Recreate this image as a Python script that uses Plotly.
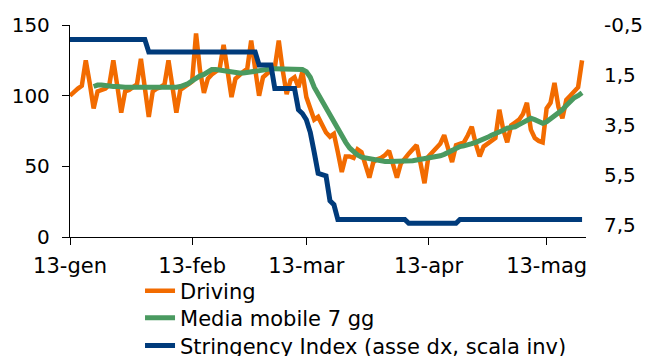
import pandas as pd
import plotly.graph_objects as go

start_date = "2020-01-13"
end_date = "2020-05-23"

# Apple mobility "Driving" index (daily, from 13 Jan 2020)
driving = [
    100, 103, 105, 107, 125, 109, 91,
    103, 104, 105, 108, 125, 107, 88,
    103, 104, 106, 108, 126, 107, 85,
    103, 105, 106, 108, 125, 108, 88,
    104, 106, 108, 110, 144, 118, 102,
    112, 115, 117, 119, 136, 118, 99,
    112, 115, 117, 119, 139, 119, 100,
    113, 116, 118, 120, 139, 118, 101,
    111, 113, 106, 117, 99, 92, 83,
    85, 80, 74, 71, 73, 60, 46,
    57, 57, 56, 62, 60, 52, 42,
    53, 55, 56, 58, 61, 52, 42,
    52, 56, 59, 62, 65, 52, 38,
    57, 60, 63, 66, 72, 62, 53,
    65, 66, 67, 72, 78, 66, 57,
    64, 66, 68, 70, 90, 76, 67,
    79, 81, 83, 87, 95, 76, 70,
    68, 67, 91, 95, 109, 92, 84,
    97, 100, 103, 106, 125,
]

# 7-day moving average (starts on the 7th day)
media_mobile = [
    106.5, 107.5, 107.5, 107, 106.5, 106.5, 106.5, 106,
    106, 106, 106, 106, 106, 106, 106,
    105.5, 105.5, 106, 106, 106, 106, 106,
    106.5, 107.5, 108.5, 110.5, 112.5, 114, 115,
    116.5, 118.5, 118.5, 118, 118, 117.5, 117,
    116.5, 116, 116, 116.5, 117, 117.5, 118,
    118, 118.5, 119, 119, 119, 119, 119,
    119, 119, 119, 118.5, 117, 113, 106,
    101, 97, 92, 86, 81, 76, 71,
    67, 63, 60, 58, 56.5, 56, 55,
    54.5, 54, 54, 53.5, 53.5, 53.5, 53.5,
    53.5, 54, 54, 54, 54.5, 55, 55,
    55.5, 56, 57, 57.5, 58.5, 60, 61.5,
    63, 64, 64.5, 65, 66, 67, 68,
    69.5, 70.5, 72, 73, 74, 75.5, 77,
    77.5, 78, 79.5, 81, 83, 84, 83,
    82, 80.5, 81.5, 83.5, 85, 87, 90,
    93, 96, 98.5, 100, 102,
]

# Stringency Index (right axis, inverted scale)
stringency = [
    0.08, 0.08, 0.08, 0.08, 0.08, 0.08, 0.08, 0.08, 0.08, 0.08,
    0.08, 0.08, 0.08, 0.08, 0.08, 0.08, 0.08, 0.08, 0.08, 0.08,
    0.58, 0.58, 0.58, 0.58, 0.58, 0.58, 0.58, 0.58, 0.58, 0.58,
    0.58, 0.58, 0.58, 0.58, 0.58, 0.58, 0.58, 0.58, 0.58, 0.58,
    0.58, 0.58, 0.58, 0.58, 0.58, 0.58, 0.58, 0.58,
    1.1, 1.1, 1.1, 1.1,
    2.05, 2.05, 2.05, 2.05, 2.05, 2.05,
    2.9, 3.05, 3.3, 3.8, 4.6, 5.45, 5.5, 5.55, 6.55, 6.7,
    7.3, 7.3, 7.3, 7.3, 7.3, 7.3, 7.3, 7.3, 7.3, 7.3,
    7.3, 7.3, 7.3, 7.3, 7.3, 7.3, 7.3, 7.3,
    7.45, 7.45, 7.45, 7.45, 7.45, 7.45, 7.45, 7.45, 7.45, 7.45,
    7.45, 7.45, 7.45,
    7.3, 7.3, 7.3, 7.3, 7.3, 7.3, 7.3, 7.3, 7.3, 7.3,
    7.3, 7.3, 7.3, 7.3, 7.3, 7.3, 7.3, 7.3, 7.3, 7.3,
    7.3, 7.3, 7.3, 7.3, 7.3, 7.3, 7.3, 7.3, 7.3, 7.3,
    7.3, 7.3,
]

x_tick_dates = ["2020-01-13", "2020-02-13", "2020-03-13", "2020-04-13", "2020-05-13"]
x_tick_labels = ["13-gen", "13-feb", "13-mar", "13-apr", "13-mag"]
y_ticks = [0, 50, 100, 150]
y2_ticks = [-0.5, 1.5, 3.5, 5.5, 7.5]
y2_labels = ["-0,5", "1,5", "3,5", "5,5", "7,5"]

series_names = ["Driving", "Media mobile 7 gg", "Stringency Index (asse dx, scala inv)"]
colors = ["#F26B00", "#4A9A60", "#003B7B"]

days = pd.date_range(start_date, periods=len(driving), freq="D")
ma_days = days[len(driving) - len(media_mobile):]
str_days = pd.date_range(start_date, periods=len(stringency), freq="D")

fig = go.Figure()
fig.add_trace(go.Scatter(x=days, y=driving, mode="lines", name=series_names[0],
                         line=dict(color=colors[0], width=4.5), legend="legend"))
fig.add_trace(go.Scatter(x=ma_days, y=media_mobile, mode="lines", name=series_names[1],
                         line=dict(color=colors[1], width=5), legend="legend2"))
fig.add_trace(go.Scatter(x=str_days, y=stringency, mode="lines", name=series_names[2],
                         line=dict(color=colors[2], width=5), yaxis="y2", legend="legend3"))

font_family = "DejaVu Sans, Arial, sans-serif"

def legend_box(ypos):
    return dict(orientation="v", x=0.1357, xanchor="left", y=ypos, yanchor="middle",
                font=dict(family=font_family, size=21, color="black"),
                bgcolor="rgba(0,0,0,0)", borderwidth=0)

fig.update_layout(
    width=643, height=348,
    margin=dict(l=62, r=65, t=17, b=119, autoexpand=False),
    paper_bgcolor="white", plot_bgcolor="white",
    font=dict(family=font_family, size=21, color="black"),
    showlegend=True,
    legend=legend_box(-0.2547),
    legend2=legend_box(-0.382),
    legend3=legend_box(-0.514),
    xaxis=dict(type="date", range=[start_date, end_date],
               tickmode="array", tickvals=x_tick_dates, ticktext=x_tick_labels,
               ticks="outside", ticklen=7, tickwidth=1.3, tickcolor="black",
               showline=True, linecolor="black", linewidth=1.3,
               showgrid=False, zeroline=False, ticklabelstandoff=3),
    yaxis=dict(range=[0, 150], tickmode="array", tickvals=y_ticks,
               tickfont=dict(size=20),
               ticks="outside", ticklen=7, tickwidth=1.3, tickcolor="black",
               showline=True, linecolor="black", linewidth=1.3,
               showgrid=False, zeroline=False, ticklabelstandoff=8),
    yaxis2=dict(overlaying="y", side="right", range=[8, -0.5],
                tickmode="array", tickvals=y2_ticks, ticktext=y2_labels,
                tickfont=dict(size=20),
                ticks="", showline=False, showgrid=False, zeroline=False,
                ticklabelstandoff=17),
)

fig.write_html("out.html")
